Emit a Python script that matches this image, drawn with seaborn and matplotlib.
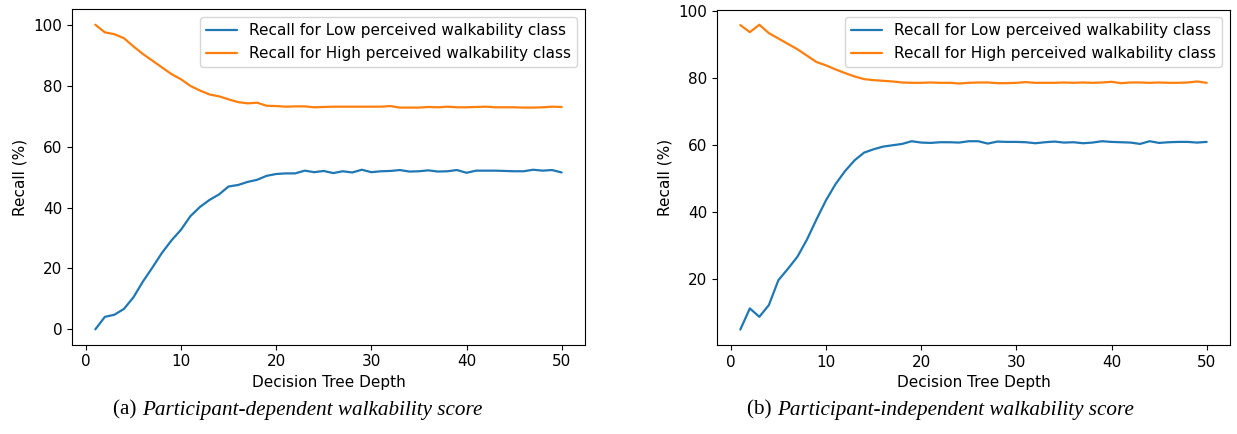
import numpy as np
import pandas as pd
import matplotlib
matplotlib.use("Agg")
import matplotlib.pyplot as plt
import seaborn as sns

depth = list(range(1, 51))

dep_low = [0.0, 4.1, 4.8, 6.7, 10.5, 15.7, 20.3, 25.1, 29.2, 32.7,
           37.2, 40.2, 42.5, 44.3, 46.9, 47.4, 48.4, 49.1, 50.4, 51.0,
           51.2, 51.2, 52.1, 51.6, 52.0, 51.3, 51.9, 51.5, 52.4, 51.6,
           51.9, 52.0, 52.3, 51.8, 51.9, 52.2, 51.8, 51.9, 52.3, 51.4,
           52.1, 52.1, 52.1, 52.0, 51.9, 51.9, 52.4, 52.1, 52.3, 51.5]
dep_high = [100.0, 97.5, 96.9, 95.6, 92.9, 90.4, 88.2, 86.0, 83.8, 82.1,
            79.9, 78.4, 77.1, 76.5, 75.5, 74.6, 74.2, 74.4, 73.4, 73.3,
            73.1, 73.2, 73.2, 72.9, 73.0, 73.1, 73.1, 73.1, 73.1, 73.1,
            73.1, 73.3, 72.8, 72.8, 72.8, 73.0, 72.9, 73.1, 72.9, 72.9,
            73.0, 73.1, 72.9, 72.9, 72.9, 72.8, 72.8, 72.9, 73.1, 73.0]

ind_low = [5.0, 11.3, 8.8, 12.3, 19.7, 23.1, 26.7, 31.8, 37.8, 43.5,
           48.3, 52.2, 55.4, 57.7, 58.7, 59.5, 59.9, 60.3, 61.1, 60.7,
           60.6, 60.8, 60.8, 60.7, 61.1, 61.1, 60.4, 61.0, 60.9, 60.9,
           60.8, 60.5, 60.8, 61.0, 60.7, 60.8, 60.5, 60.7, 61.1, 60.9,
           60.8, 60.7, 60.3, 61.1, 60.6, 60.8, 60.9, 60.9, 60.7, 60.9]
ind_high = [95.7, 93.6, 95.8, 93.3, 91.7, 90.1, 88.5, 86.6, 84.7, 83.7,
            82.5, 81.4, 80.4, 79.6, 79.3, 79.1, 78.9, 78.6, 78.5, 78.5,
            78.6, 78.5, 78.5, 78.3, 78.5, 78.6, 78.6, 78.4, 78.4, 78.5,
            78.7, 78.5, 78.5, 78.5, 78.6, 78.5, 78.6, 78.5, 78.6, 78.8,
            78.4, 78.6, 78.6, 78.5, 78.6, 78.5, 78.5, 78.6, 78.9, 78.5]

series_names = ["Recall for Low perceived walkability class",
                "Recall for High perceived walkability class"]
captions_tag = ["(a) ", "(b) "]
captions_text = ["Participant-dependent walkability score",
                 "Participant-independent walkability score"]
xlabel = "Decision Tree Depth"
ylabel = "Recall (%)"

sns.set_theme(style="ticks")
FS = 11
plt.rcParams.update({
    "font.family": ["DejaVu Sans"],
    "font.size": FS,
    "axes.labelsize": FS,
    "xtick.labelsize": FS,
    "ytick.labelsize": FS,
    "legend.fontsize": FS,
    "axes.edgecolor": "black",
    "axes.linewidth": 0.8,
    "xtick.color": "black",
    "ytick.color": "black",
    "xtick.major.size": 3.5,
    "ytick.major.size": 3.5,
    "xtick.major.width": 0.8,
    "ytick.major.width": 0.8,
    "text.color": "black",
    "axes.labelcolor": "black",
})

palette = ["#1f77b4", "#ff7f0e"]

fig = plt.figure(figsize=(12.37, 4.34), dpi=100)
W, H = 1237, 434
axes_px = [(72, 9.5, 585, 344.6), (717, 9.5, 1230, 344.8)]
axes = []
for (x0, y0, x1, y1) in axes_px:
    ax = fig.add_axes([x0 / W, 1 - y1 / H, (x1 - x0) / W, (y1 - y0) / H])
    axes.append(ax)

datasets = [(dep_low, dep_high), (ind_low, ind_high)]
for ax, (low, high) in zip(axes, datasets):
    df = pd.DataFrame({
        "depth": depth * 2,
        "recall": list(low) + list(high),
        "series": [series_names[0]] * len(depth) + [series_names[1]] * len(depth),
    })
    sns.lineplot(data=df, x="depth", y="recall", hue="series",
                 palette=palette, ax=ax, linewidth=1.6)
    ax.set_xlabel(xlabel)
    ax.set_ylabel(ylabel)
    ax.set_xticks([0, 10, 20, 30, 40, 50])
    for s in ax.spines.values():
        s.set_visible(True)
    ax.legend(loc="upper right", frameon=True, fancybox=True,
              framealpha=0.8, edgecolor="#cccccc", title=None)

caption_centers = [297.5, 940.5]
CFS = 15.2
for cx, tag, txt in zip(caption_centers, captions_tag, captions_text):
    t1 = fig.text(0, 0, tag, family="Liberation Serif", fontsize=CFS,
                  va="center", ha="left")
    t2 = fig.text(0, 0, txt, family="Liberation Serif", style="italic",
                  fontsize=CFS, va="center", ha="left")
    fig.canvas.draw()
    r = fig.canvas.get_renderer()
    w1 = t1.get_window_extent(r).width
    w2 = t2.get_window_extent(r).width
    start = cx - (w1 + w2) / 2
    ypix = 410
    t1.set_position((start / W, 1 - ypix / H))
    t2.set_position(((start + w1) / W, 1 - ypix / H))

fig.savefig("out.png", dpi=100)
